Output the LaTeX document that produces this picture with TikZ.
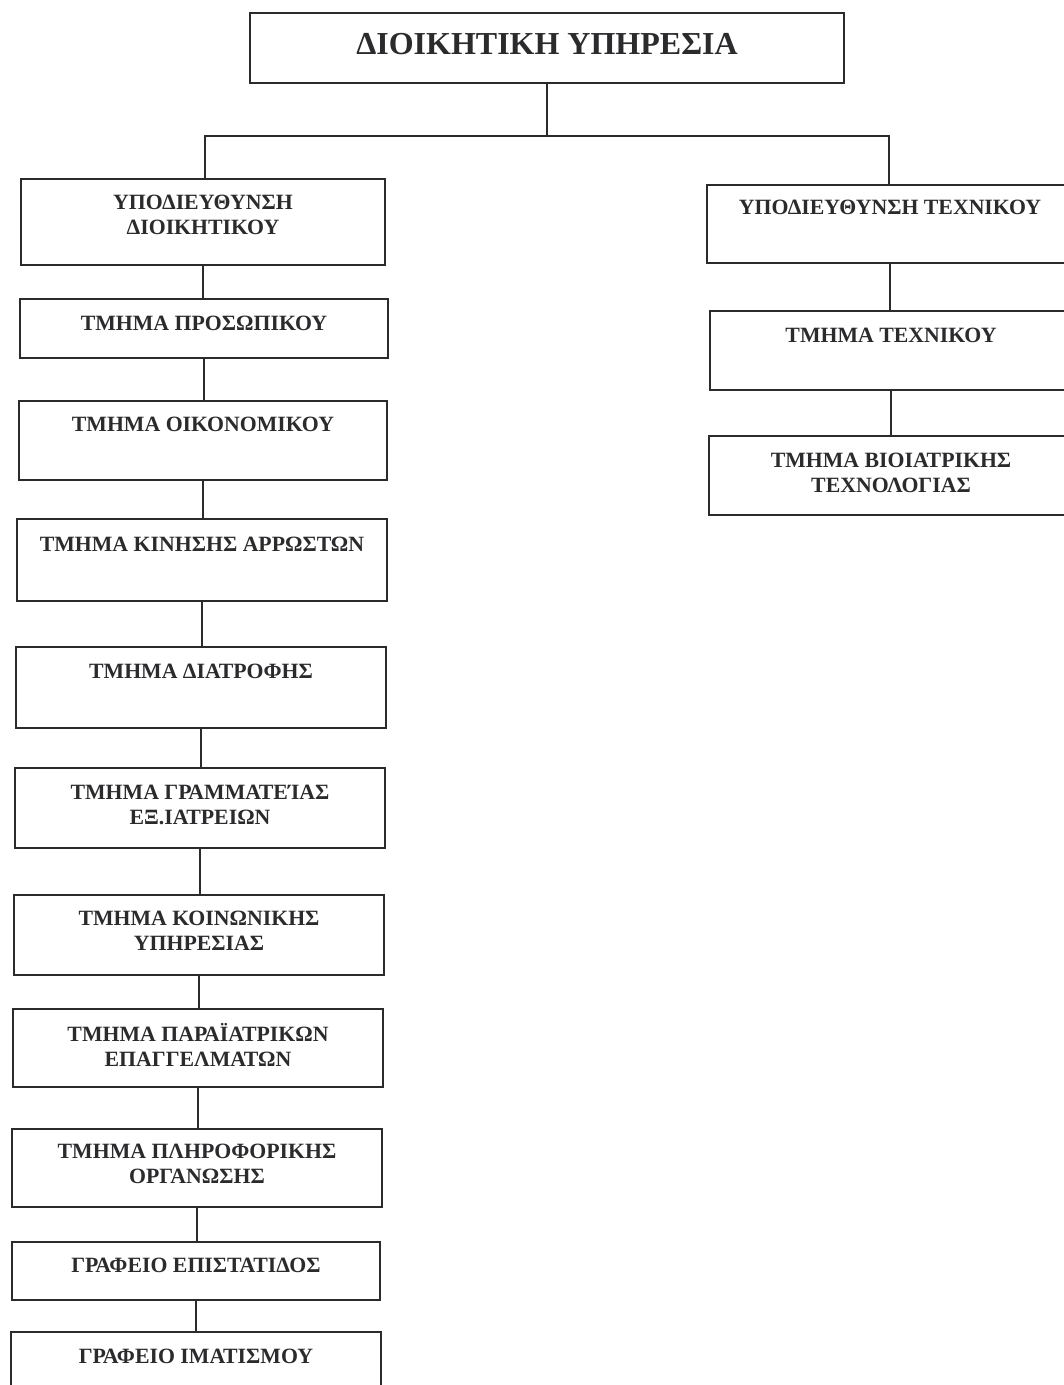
\documentclass[tikz,border=0pt]{standalone}
\usepackage{fontspec}
\setmainfont{Liberation Serif}
\usetikzlibrary{fit}
\definecolor{ink}{HTML}{2B2B2E}
\tikzset{
  orgframe/.style={draw=ink, line width=1.8pt, inner sep=0pt, rectangle},
  orglabel/.style={text=ink, inner sep=0pt, align=center, anchor=north,
    font=\fontsize{21.8}{25}\selectfont\bfseries},
  titlelabel/.style={text=ink, inner sep=0pt, align=center, anchor=north,
    font=\fontsize{32}{36}\selectfont\bfseries},
  link/.style={draw=ink, line width=1.8pt}
}
% name, x1, y1, x2, y2, y of first text line (cap middle), text
\newcommand\orgbox[7]{%
  \coordinate (#1a) at (#2,#3);
  \coordinate (#1b) at (#4,#5);
  \node[orgframe, fit=(#1a)(#1b)] (#1) {};
  \node[orglabel] (#1t) at ({(#2+#4)/2},{#6-7.3}) {#7};
}
\begin{document}
\begin{tikzpicture}[x=1pt,y=-1pt]
\useasboundingbox (0,0) rectangle (1064,1385);
\fill[white] (0,0) rectangle (1064,1385);
\clip (0,0) rectangle (1064,1385);

% top box
\coordinate (topa) at (250,13);
\coordinate (topb) at (844,83);
\node[orgframe, fit=(topa)(topb)] (top) {};
\node[titlelabel] (topt) at (547,{44-11}) {ΔΙΟΙΚΗΤΙΚΗ ΥΠΗΡΕΣΙΑ};

% left column
\orgbox{L1}{21}{179}{385}{265}{202}{ΥΠΟΔΙΕΥΘΥΝΣΗ\\ΔΙΟΙΚΗΤΙΚΟΥ}
\orgbox{L2}{20}{299}{388}{358}{323}{ΤΜΗΜΑ ΠΡΟΣΩΠΙΚΟΥ}
\orgbox{L3}{19}{401}{387}{480}{424}{ΤΜΗΜΑ ΟΙΚΟΝΟΜΙΚΟΥ}
\orgbox{L4}{17}{519}{387}{601}{544}{ΤΜΗΜΑ ΚΙΝΗΣΗΣ ΑΡΡΩΣΤΩΝ}
\orgbox{L5}{16}{647}{386}{728}{671}{ΤΜΗΜΑ ΔΙΑΤΡΟΦΗΣ}
\orgbox{L6}{15}{768}{385}{848}{792}{ΤΜΗΜΑ ΓΡΑΜΜΑΤΕΊΑΣ\\ΕΞ.ΙΑΤΡΕΙΩΝ}
\orgbox{L7}{14}{895}{384}{975}{918}{ΤΜΗΜΑ ΚΟΙΝΩΝΙΚΗΣ\\ΥΠΗΡΕΣΙΑΣ}
\orgbox{L8}{13}{1009}{383}{1087}{1030}{ΤΜΗΜΑ ΠΑΡΑΪΑΤΡΙΚΩΝ\\ΕΠΑΓΓΕΛΜΑΤΩΝ}
\orgbox{L9}{12}{1129}{382}{1207}{1151}{ΤΜΗΜΑ ΠΛΗΡΟΦΟΡΙΚΗΣ\\ΟΡΓΑΝΩΣΗΣ}
\orgbox{L10}{12}{1242}{380}{1300}{1265}{ΓΡΑΦΕΙΟ ΕΠΙΣΤΑΤΙΔΟΣ}
\orgbox{L11}{11}{1332}{381}{1400}{1356}{ΓΡΑΦΕΙΟ ΙΜΑΤΙΣΜΟΥ}

% right column
\orgbox{R1}{707}{185}{1073}{263}{207}{ΥΠΟΔΙΕΥΘΥΝΣΗ ΤΕΧΝΙΚΟΥ}
\orgbox{R2}{710}{311}{1072}{390}{335}{ΤΜΗΜΑ ΤΕΧΝΙΚΟΥ}
\orgbox{R3}{709}{436}{1073}{515}{460}{ΤΜΗΜΑ ΒΙΟΙΑΤΡΙΚΗΣ\\ΤΕΧΝΟΛΟΓΙΑΣ}

% connectors
\coordinate (jl) at (205,136);
\coordinate (jr) at (889,136);
\draw[link] (top.south) -- (top.south |- jl);
\draw[link] (L1.north -| jl) -- (jl) -- (jr) -- (R1.north -| jr);
\foreach \a/\b in {L1/L2,L2/L3,L3/L4,L4/L5,L5/L6,L6/L7,L7/L8,L8/L9,L9/L10,L10/L11}{
  \draw[link] (\a.south) -- (\a.south |- \b.north);
}
\draw[link] (R1.south) -- (R1.south |- R2.north);
\draw[link] (R2.south) -- (R2.south |- R3.north);
\end{tikzpicture}
\end{document}
